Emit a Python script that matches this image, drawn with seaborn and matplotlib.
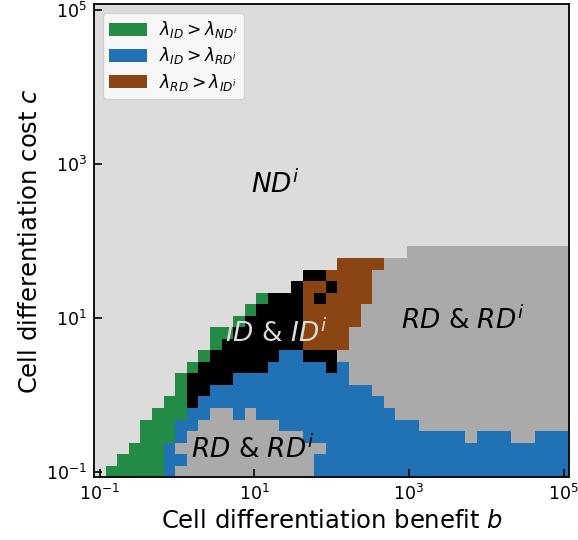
import numpy as np
import pandas as pd
import matplotlib
matplotlib.use("Agg")
import matplotlib.pyplot as plt
from matplotlib.colors import ListedColormap
from matplotlib.patches import Patch
import seaborn as sns

# ---- grid (log10 of benefit b and cost c) ----
b_exponents = np.linspace(-1, 5, 41)
c_exponents = np.linspace(-1, 5, 41)

# ---- regime codes ----
regime_codes = ["N", "G", "B", "R", "K", "D"]
regime_colors = ["#dcdcdc", "#238b45", "#2171b5", "#8b4513", "#000000", "#aaaaaa"]
legend_labels = [r"$\lambda_{ID} > \lambda_{ND^i}$",
                 r"$\lambda_{ID} > \lambda_{RD^i}$",
                 r"$\lambda_{RD} > \lambda_{ID^i}$"]
legend_codes = ["G", "B", "R"]

# run-length rows of regimes, from the lowest cost row upward (columns = b)
regime_runs = [
    [("N", 1), ("G", 5), ("B", 1), ("D", 12), ("B", 22)],                                   # row 0
    [("N", 2), ("G", 4), ("B", 2), ("D", 11), ("B", 22)],                                   # row 1
    [("N", 3), ("G", 3), ("B", 1), ("D", 13), ("B", 21)],                                   # row 2
    [("N", 4), ("G", 3), ("B", 1), ("D", 10), ("B", 14), ("D", 1), ("B", 3), ("D", 2), ("B", 3)],  # row 3
    [("N", 4), ("G", 3), ("B", 2), ("D", 7), ("B", 12), ("D", 13)],                         # row 4
    [("N", 5), ("G", 3), ("B", 2), ("D", 2), ("B", 1), ("D", 1), ("B", 12), ("D", 15)],     # row 5
    [("N", 6), ("G", 2), ("K", 1), ("B", 16), ("D", 16)],                                   # row 6
    [("N", 7), ("G", 1), ("K", 2), ("B", 14), ("D", 17)],                                   # row 7
    [("N", 7), ("G", 1), ("K", 4), ("B", 10), ("D", 19)],                                   # row 8
    [("N", 8), ("G", 1), ("K", 6), ("B", 5), ("K", 1), ("B", 1), ("D", 19)],                # row 9
    [("N", 9), ("G", 1), ("K", 6), ("B", 2), ("K", 3), ("D", 20)],                          # row 10
    [("N", 10), ("G", 1), ("K", 7), ("R", 4), ("D", 19)],                                   # row 11
    [("N", 10), ("G", 2), ("K", 6), ("R", 4), ("D", 19)],                                   # row 12
    [("N", 12), ("G", 1), ("K", 5), ("R", 5), ("D", 18)],                                   # row 13
    [("N", 13), ("G", 1), ("K", 4), ("R", 5), ("D", 18)],                                   # row 14
    [("N", 14), ("G", 1), ("K", 3), ("R", 1), ("K", 1), ("R", 4), ("D", 17)],               # row 15
    [("N", 17), ("K", 1), ("R", 2), ("K", 1), ("R", 3), ("D", 17)],                         # row 16
    [("N", 18), ("K", 2), ("R", 4), ("D", 17)],                                             # row 17
    [("N", 21), ("R", 4), ("D", 16)],                                                       # row 18
    [("N", 27), ("D", 14)],                                                                 # row 19
]

# ---- build the category table ----
n = len(b_exponents)
rows = []
for runs in regime_runs:
    row = []
    for code, count in runs:
        row += [regime_codes.index(code)] * count
    assert len(row) == n
    rows.append(row)
while len(rows) < len(c_exponents):
    rows.append([regime_codes.index("N")] * n)
grid = pd.DataFrame(np.array(rows), index=c_exponents, columns=b_exponents)

step = b_exponents[1] - b_exponents[0]
lo = b_exponents[0] - step / 2

fig = plt.figure(figsize=(5.78, 5.4), dpi=100)
ax = fig.add_axes([94 / 578, 1 - 477.3 / 540, 475.3 / 578, 473.3 / 540])

sns.heatmap(grid, cmap=ListedColormap(regime_colors), vmin=-0.5, vmax=len(regime_codes) - 0.5,
            cbar=False, ax=ax, xticklabels=False, yticklabels=False)
ax.set_ylim(0, len(c_exponents))
ax.set_xlim(0, n)

for s in ax.spines.values():
    s.set_visible(True)
    s.set_color("black")
    s.set_linewidth(1.3)

tick_exps = [-1, 1, 3, 5]
tick_pos = [(k - lo) / step for k in tick_exps]
tick_lab = [r"$\mathdefault{10^{%d}}$" % k for k in tick_exps]
ax.set_xticks(tick_pos)
ax.set_xticklabels(tick_lab, rotation=0, fontsize=12.5)
ax.set_yticks(tick_pos)
ax.set_yticklabels(tick_lab, rotation=0, fontsize=12.5)
ax.tick_params(direction="in", length=6, width=1.2, color="black", pad=5)

ax.set_xlabel(r"Cell differentiation benefit $b$", fontsize=17.5, labelpad=3)
ax.set_ylabel(r"Cell differentiation cost $c$", fontsize=17.5, labelpad=3)

# region labels
ax.text(0.381, 0.618, r"$ND^i$", transform=ax.transAxes, fontsize=19,
        ha="center", va="center", color="black")
ax.text(0.384, 0.303, r"$ID$ & $ID^i$", transform=ax.transAxes, fontsize=19,
        ha="center", va="center", color="#dcdcdc")
ax.text(0.775, 0.331, r"$RD$ & $RD^i$", transform=ax.transAxes, fontsize=19,
        ha="center", va="center", color="black")
ax.text(0.335, 0.058, r"$RD$ & $RD^i$", transform=ax.transAxes, fontsize=19,
        ha="center", va="center", color="black")

handles = [Patch(facecolor=regime_colors[regime_codes.index(c)], label=l)
           for c, l in zip(legend_codes, legend_labels)]
ax.legend(handles=handles, loc="upper left", fontsize=12.3, labelspacing=0.3,
          handlelength=2.2, handleheight=0.8, handletextpad=0.7, borderpad=0.4)

fig.savefig("out.png", dpi=100)
